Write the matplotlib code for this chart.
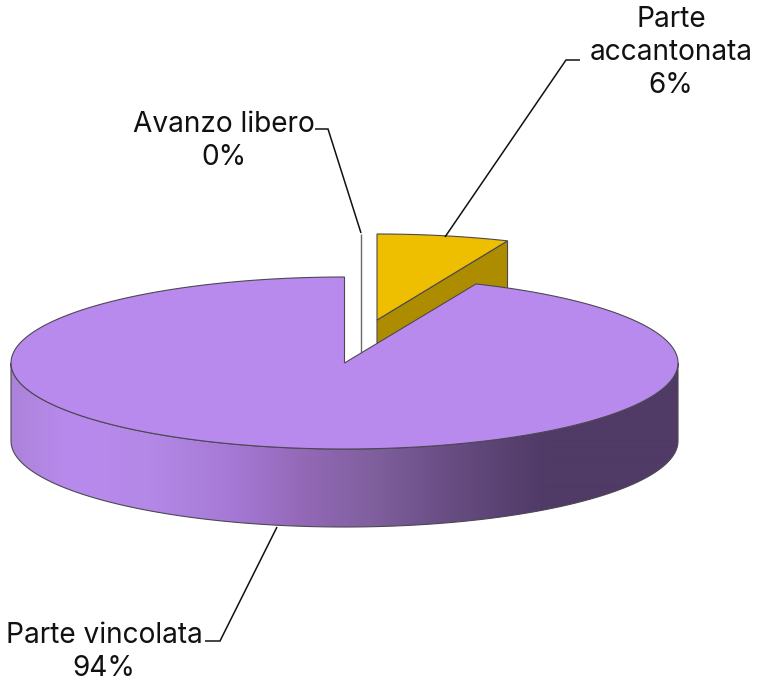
import numpy as np
import matplotlib
matplotlib.use("Agg")
import matplotlib.pyplot as plt
from matplotlib.patches import Polygon
from matplotlib.colors import to_rgb

# Data (clockwise from 12 o'clock)
labels = ["Parte\naccantonata", "Avanzo libero", "Parte vincolata"]
shares = [6.4, 0.05, 93.55]

# Styles
TOP = "#B98AEE"
YELLOW = "#EEBE00"
YELLOW_DK = "#AD8C00"
EDGE = "#4C4852"
FONT = "Inter"
FS = 20.2
cx, cy, rx, ry, depth = 344.5, 363.0, 333.5, 86.0, 78.0
off_yellow = (32.5, -43.0)
off_white = (16.3, -43.0)

fig = plt.figure(figsize=(7.59, 6.85), dpi=100)
ax = fig.add_axes([0, 0, 1, 1])
ax.set_xlim(0, 759)
ax.set_ylim(685, 0)
ax.axis("off")


def rim(deg, off=(0.0, 0.0), dz=0.0):
    t = np.radians(np.asarray(deg, dtype=float))
    return np.column_stack([cx + off[0] + rx * np.sin(t),
                            cy + off[1] - ry * np.cos(t) + dz])


edges = np.cumsum([0.0] + shares) * 3.6
a_yellow = (edges[0], edges[1])
a_purple = (edges[2], edges[3])
lw = 0.8

# Exploded yellow slice
ya = np.linspace(*a_yellow, 60)
apex = np.array([[cx + off_yellow[0], cy + off_yellow[1]]])
tip = rim([a_yellow[1]], off_yellow)
ax.add_patch(Polygon(np.vstack([apex, tip, tip + [0, depth], apex + [0, depth]]),
                     fc=YELLOW_DK, ec=EDGE, lw=lw, zorder=1))
ax.add_patch(Polygon(np.vstack([apex, rim(ya, off_yellow)]),
                     fc=YELLOW, ec=EDGE, lw=lw, zorder=2))

# Exploded, nearly empty white slice
wa = rim([0], off_white)
wc = np.array([[cx + off_white[0], cy + off_white[1] + depth]])
ax.add_patch(Polygon(np.vstack([wc, wa]), closed=False, fill=False, ec="#6A6A6A", lw=1.0, zorder=1))

# Purple side wall with gradient
wall_a = np.linspace(90, 270, 200)
upper = rim(wall_a)
lower = rim(wall_a, dz=depth)
wall = Polygon(np.vstack([upper, lower[::-1]]), fc="none", ec=EDGE, lw=lw, zorder=4)
ax.add_patch(wall)
stops_x = [11, 35, 70, 150, 230, 300, 370, 440, 500, 545, 678]
stops_c = ["#AB83DA", "#B186E2", "#B98AEE", "#B388E6", "#A679D6", "#9469B8",
           "#80609E", "#6B4F86", "#5A4373", "#503A66", "#503A66"]
xs = np.arange(11, 679)
rgb = np.array([to_rgb(c) for c in stops_c])
grad = np.stack([np.interp(xs, stops_x, rgb[:, i]) for i in range(3)], axis=-1)[None, :, :]
im = ax.imshow(grad, extent=(11, 679, 530, 350), aspect="auto", zorder=3, interpolation="bilinear")
clip = Polygon(np.vstack([upper, lower[::-1]]), transform=ax.transData)
im.set_clip_path(clip)
ax.set_xlim(0, 759)
ax.set_ylim(685, 0)

# Purple top
pa = np.linspace(*a_purple, 500)
ax.add_patch(Polygon(np.vstack([[[cx, cy]], rim(pa)]), fc=TOP, ec=EDGE, lw=lw, zorder=5))

# Leader lines
lead = dict(color="#111111", lw=1.1, zorder=6, solid_capstyle="butt", solid_joinstyle="miter")
ax.plot([445, 566, 580], [237, 60, 60], **lead)
ax.plot([361, 328, 315], [233, 129, 129], **lead)
ax.plot([277, 220, 205], [527, 641, 641], **lead)

# Labels
tk = dict(family=FONT, fontsize=FS, color="#111111", ha="center", va="center", linespacing=1.3, zorder=7)
ax.text(671, 52.5, f"{labels[0]}\n{round(shares[0])}%", **tk)
ax.text(224, 141, f"{labels[1]}\n{round(shares[1])}%", **tk)
ax.text(104, 652, f"{labels[2]}\n{round(shares[2])}%", **tk)

fig.savefig("out.png", dpi=100, facecolor="white")
